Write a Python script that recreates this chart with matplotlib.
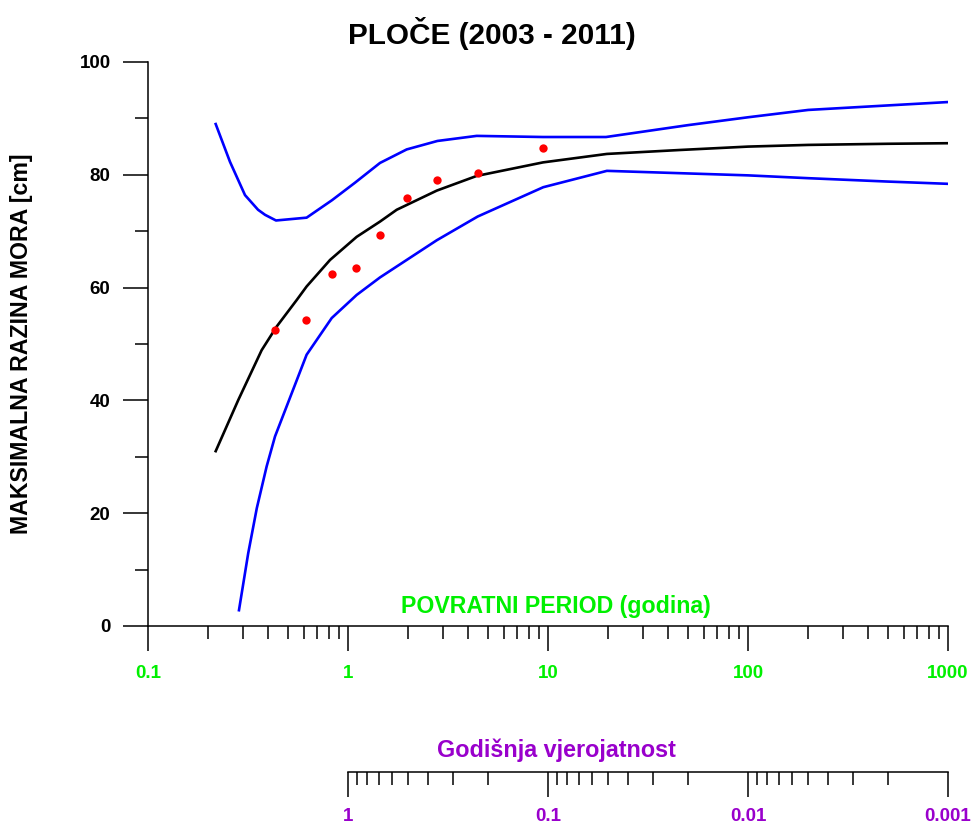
import matplotlib
matplotlib.use("Agg")
import matplotlib.pyplot as plt
import matplotlib.ticker as mticker
import numpy as np

plt.rcParams['font.family'] = ['Liberation Sans', 'DejaVu Sans']

# return period [years] and sea level [cm]
obs_T = [0.434, 0.62, 0.829, 1.093, 1.445, 1.966, 2.80, 4.48, 9.47]
obs_h = [52.4, 54.3, 62.4, 63.5, 69.3, 75.8, 79.0, 80.4, 84.7]

fit_T = [0.218, 0.283, 0.37, 0.44, 0.554, 0.621, 0.813, 1.105, 1.445, 1.752,
         2.78, 4.40, 9.44, 19.7, 45.7, 100, 200, 500, 1000]
fit_h = [31.0, 40.1, 48.9, 53.1, 57.8, 60.2, 64.9, 69.0, 71.7, 73.8,
         77.2, 79.8, 82.2, 83.7, 84.4, 85.0, 85.3, 85.5, 85.6]

up_T = [0.218, 0.257, 0.3055, 0.355, 0.385, 0.4365, 0.621, 0.832, 1.084, 1.445,
        1.966, 2.80, 4.40, 9.44, 19.5, 50, 100, 200, 500, 1000]
up_h = [89.0, 82.3, 76.4, 73.8, 72.9, 71.9, 72.4, 75.5, 78.6, 82.1,
        84.5, 86.0, 86.9, 86.7, 86.7, 88.8, 90.2, 91.5, 92.3, 92.9]

lo_T = [0.285, 0.317, 0.35, 0.392, 0.4315, 0.621, 0.829, 1.105, 1.445, 2.78,
        4.45, 9.47, 19.7, 100, 200, 500, 1000]
lo_h = [2.8, 12.9, 20.9, 28.3, 33.6, 48.1, 54.6, 58.7, 61.8, 68.4,
        72.6, 77.8, 80.7, 79.9, 79.4, 78.8, 78.4]

# tick values
T_major = [0.1, 1, 10, 100, 1000]
p_major = [1, 0.1, 0.01, 0.001]
p_minor = [m * d for d in [1, 0.1, 0.01] for m in [0.9, 0.8, 0.7, 0.6, 0.5, 0.4, 0.3, 0.2]]

green = '#00f000'
purple = '#9900cc'

fig = plt.figure(figsize=(9.72, 8.27), dpi=100)
ax = fig.add_axes([148 / 972, 1 - 626 / 827, 800 / 972, 564 / 827])

ax.plot(fit_T, fit_h, color='black', lw=1.9)
ax.plot(up_T, up_h, color='#0000ff', lw=1.9)
ax.plot(lo_T, lo_h, color='#0000ff', lw=1.9)
ax.plot(obs_T, obs_h, 'o', color='red', ms=6, mec='none')

ax.set_xscale('log')
ax.set_xlim(0.1, 1000)
ax.set_ylim(0, 100)
ax.spines['top'].set_visible(False)
ax.spines['right'].set_visible(False)
for s in ['left', 'bottom']:
    ax.spines[s].set_linewidth(1.1)

ax.xaxis.set_major_locator(mticker.FixedLocator(T_major))
ax.xaxis.set_major_formatter(mticker.FuncFormatter(lambda v, p: '%g' % v))
ax.xaxis.set_minor_locator(mticker.LogLocator(base=10, subs=np.arange(2, 10)))
ax.xaxis.set_minor_formatter(mticker.NullFormatter())
ax.yaxis.set_major_locator(mticker.MultipleLocator(20))
ax.yaxis.set_minor_locator(mticker.MultipleLocator(10))

ax.tick_params(which='major', length=18, width=1.1, direction='out')
ax.tick_params(which='minor', length=9.4, width=1.1, direction='out')
ax.tick_params(axis='y', which='major', pad=9, labelsize=13.5)
ax.tick_params(axis='x', which='major', pad=10, labelsize=13.5, labelcolor=green)
for lab in ax.get_xticklabels() + ax.get_yticklabels():
    lab.set_fontweight('bold')

ax.text(0.51, 0.034, 'POVRATNI PERIOD (godina)', transform=ax.transAxes,
        color=green, fontsize=16.7, fontweight='bold', ha='center', va='center')

fig.text(492 / 972, 1 - 33 / 827, 'PLOČE (2003 - 2011)', fontsize=21.4,
         fontweight='bold', ha='center', va='center')
fig.text(22 / 972, 1 - 344 / 827, 'MAKSIMALNA RAZINA MORA [cm]', fontsize=16.7,
         fontweight='bold', rotation=90, ha='center', va='center')

# annual probability axis
ax2 = fig.add_axes([348 / 972, 1 - 772 / 827, 600 / 972, 0.001])
ax2.set_xscale('log')
ax2.set_xlim(1, 0.001)
for s in ['top', 'left', 'right']:
    ax2.spines[s].set_visible(False)
ax2.spines['bottom'].set_linewidth(1.1)
ax2.patch.set_visible(False)
ax2.set_yticks([])
ax2.xaxis.set_major_locator(mticker.FixedLocator(p_major))
ax2.xaxis.set_major_formatter(mticker.FuncFormatter(lambda v, p: '%g' % v))
ax2.xaxis.set_minor_locator(mticker.FixedLocator(p_minor))
ax2.xaxis.set_minor_formatter(mticker.NullFormatter())
ax2.tick_params(which='major', length=18, width=1.1, pad=8, labelsize=13.5,
                labelcolor=purple)
ax2.tick_params(which='minor', length=9.4, width=1.1)
for lab in ax2.get_xticklabels():
    lab.set_fontweight('bold')
fig.text(556 / 972, 1 - 750 / 827, 'Godišnja vjerojatnost', color=purple,
         fontsize=16.8, fontweight='bold', ha='center', va='center')

fig.savefig('out.png', dpi=100)
